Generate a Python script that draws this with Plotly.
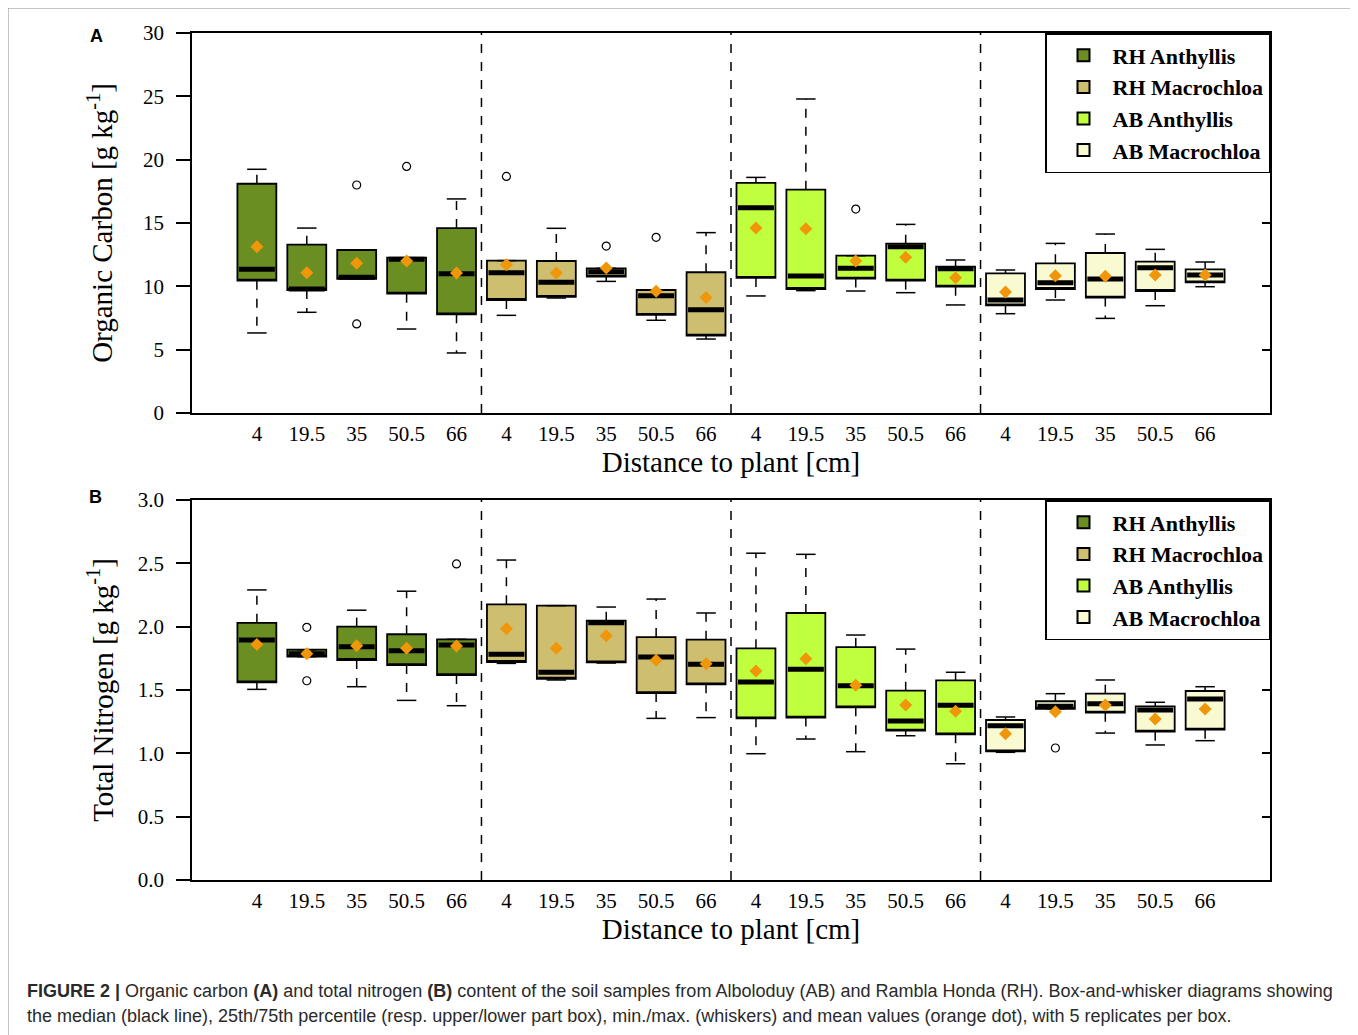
import plotly.graph_objects as go

# ---------------- data ----------------
groups = ["RH Anthyllis", "RH Macrochloa", "AB Anthyllis", "AB Macrochloa"]
group_colors = ["#6B8E23", "#CDBE70", "#C0FF3E", "#FAFAD2"]
distances = ["4", "19.5", "35", "50.5", "66"]

# Panel A: Organic carbon [g kg-1]
oc_min = [6.32, 7.95, 10.60, 6.63, 4.74, 7.71, 9.08, 10.39, 7.32, 5.84,
          9.24, 9.66, 9.63, 9.50, 8.53, 7.84, 8.92, 7.47, 8.47, 9.97]
oc_q1 = [10.45, 9.71, 10.60, 9.42, 7.79, 8.92, 9.16, 10.76, 7.74, 6.11,
         10.66, 9.79, 10.61, 10.45, 9.97, 8.50, 9.79, 9.11, 9.63, 10.32]
oc_med = [11.34, 9.79, 10.71, 12.13, 11.00, 11.08, 10.32, 11.16, 9.26, 8.16,
          16.21, 10.82, 11.42, 13.13, 11.39, 8.92, 10.29, 10.58, 11.47, 10.89]
oc_q3 = [18.10, 13.29, 12.87, 12.26, 14.60, 12.03, 12.00, 11.42, 9.71, 11.11,
         18.16, 17.63, 12.42, 13.37, 11.55, 11.03, 11.82, 12.63, 11.95, 11.34]
oc_max = [19.24, 14.60, 12.87, 12.26, 16.90, 12.03, 14.58, 11.42, 9.71, 14.24,
          18.60, 24.79, 12.42, 14.89, 12.08, 11.29, 13.39, 14.13, 12.92, 11.92]
oc_mean = [13.13, 11.08, 11.82, 12.00, 11.05, 11.71, 11.05, 11.45, 9.61, 9.11,
           14.60, 14.55, 12.00, 12.29, 10.68, 9.55, 10.84, 10.79, 10.89, 10.89]
oc_out_box = [2, 2, 3, 5, 7, 8, 12]
oc_out_val = [18.0, 7.03, 19.47, 18.68, 13.18, 13.87, 16.1]

# Panel B: Total nitrogen [g kg-1]
tn_min = [1.505, 1.763, 1.526, 1.418, 1.376, 1.710, 1.579, 1.713, 1.276, 1.282,
          0.997, 1.113, 1.013, 1.139, 0.918, 1.008, 1.352, 1.160, 1.066, 1.100]
tn_q1 = [1.560, 1.763, 1.737, 1.697, 1.618, 1.721, 1.589, 1.718, 1.476, 1.545,
         1.276, 1.282, 1.363, 1.179, 1.150, 1.016, 1.352, 1.321, 1.171, 1.187]
tn_med = [1.895, 1.787, 1.842, 1.810, 1.855, 1.782, 1.640, 2.030, 1.760, 1.703,
          1.563, 1.663, 1.534, 1.255, 1.379, 1.218, 1.371, 1.392, 1.342, 1.429]
tn_q3 = [2.030, 1.818, 2.000, 1.940, 1.900, 2.176, 2.166, 2.047, 1.918, 1.897,
         1.829, 2.108, 1.839, 1.495, 1.576, 1.263, 1.411, 1.471, 1.371, 1.492]
tn_max = [2.290, 1.818, 2.130, 2.280, 1.900, 2.526, 2.166, 2.155, 2.218, 2.108,
          2.580, 2.571, 1.934, 1.823, 1.640, 1.287, 1.471, 1.579, 1.403, 1.526]
tn_mean = [1.860, 1.787, 1.850, 1.830, 1.847, 1.984, 1.829, 1.929, 1.734, 1.708,
           1.650, 1.747, 1.537, 1.382, 1.332, 1.155, 1.329, 1.382, 1.271, 1.350]
tn_out_box = [1, 1, 4, 16]
tn_out_val = [1.995, 1.573, 2.495, 1.042]

# ---------------- styling ----------------
SERIF = "Liberation Serif"
SANS = "Liberation Sans"
BOX_W = 0.78
CAP_HALF = 0.195
MEAN_COLOR = "#F0960A"

n_g, n_d = len(groups), len(distances)
positions = list(range(n_g * n_d))

fig = go.Figure()


def add_panel(xa, ya, legend_name, mins, q1s, meds, q3s, maxs, means, out_box, out_val):
    # whiskers (dashed) and caps
    wx, wy, cx, cy = [], [], [], []
    for i in positions:
        wx += [i, i, None, i, i, None]
        wy += [q3s[i], maxs[i], None, q1s[i], mins[i], None]
        cx += [i - CAP_HALF, i + CAP_HALF, None, i - CAP_HALF, i + CAP_HALF, None]
        cy += [maxs[i], maxs[i], None, mins[i], mins[i], None]
    fig.add_trace(go.Scatter(x=wx, y=wy, mode="lines", xaxis=xa, yaxis=ya,
                             line=dict(color="black", width=1.5, dash="dash"),
                             showlegend=False, hoverinfo="skip"))
    fig.add_trace(go.Scatter(x=cx, y=cy, mode="lines", xaxis=xa, yaxis=ya,
                             line=dict(color="black", width=1.5),
                             showlegend=False, hoverinfo="skip"))
    # boxes
    for gi, g in enumerate(groups):
        idx = positions[gi * n_d:(gi + 1) * n_d]
        fig.add_trace(go.Box(
            x=idx,
            q1=[q1s[i] for i in idx], median=[q1s[i] for i in idx],
            q3=[q3s[i] for i in idx],
            lowerfence=[q1s[i] for i in idx], upperfence=[q3s[i] for i in idx],
            width=BOX_W, whiskerwidth=0, fillcolor=group_colors[gi],
            line=dict(color="black", width=1.8), name=g, legend=legend_name,
            xaxis=xa, yaxis=ya, boxpoints=False, hoverinfo="skip"))
    # median (thick black line)
    fig.add_trace(go.Box(
        x=positions, q1=meds, median=meds, q3=meds, lowerfence=meds, upperfence=meds,
        width=BOX_W - 0.06, whiskerwidth=0, fillcolor="rgba(0,0,0,0)",
        line=dict(color="black", width=5), showlegend=False,
        xaxis=xa, yaxis=ya, boxpoints=False, hoverinfo="skip"))
    # means
    fig.add_trace(go.Scatter(x=positions, y=means, mode="markers", xaxis=xa, yaxis=ya,
                             marker=dict(symbol="diamond", size=10, color=MEAN_COLOR),
                             showlegend=False))
    # outliers
    fig.add_trace(go.Scatter(x=out_box, y=out_val, mode="markers", xaxis=xa, yaxis=ya,
                             marker=dict(symbol="circle-open", size=8, color="black",
                                         line=dict(width=1.2)),
                             showlegend=False))


add_panel("x", "y", "legend", oc_min, oc_q1, oc_med, oc_q3, oc_max, oc_mean, oc_out_box, oc_out_val)
add_panel("x2", "y2", "legend2", tn_min, tn_q1, tn_med, tn_q3, tn_max, tn_mean, tn_out_box, tn_out_val)

# dummy traces for the right-hand inside tick axes
fig.add_trace(go.Scatter(x=[None], y=[None], xaxis="x", yaxis="y3", showlegend=False))
fig.add_trace(go.Scatter(x=[None], y=[None], xaxis="x2", yaxis="y4", showlegend=False))

# group separators
for k in range(1, n_g):
    for xr, yr in (("x", "y domain"), ("x2", "y2 domain")):
        fig.add_shape(type="line", xref=xr, yref=yr, x0=k * n_d - 0.5, x1=k * n_d - 0.5,
                      y0=0, y1=1, line=dict(color="black", width=1.5, dash="dash"))

# page has an 8px body margin; positions below are in screenshot pixels
OFF = 8
W, H = 1358, 1035
ML, MT = 192 - OFF, 33 - OFF
PW = 1270 - 192
PB = 880 - OFF  # plot bottom in figure coords
PH = PB - MT
MR = W - ML - PW
MB = H - PB


def px(x):
    return (x - OFF - ML) / PW


def py(y):
    return (PB - (y - OFF)) / PH


domA = [py(413), 1.0]
domB = [0.0, py(500)]

xcommon = dict(range=[-1.3, 20.3], tickvals=positions, ticktext=distances * n_g,
               showline=True, mirror=True, linecolor="black", linewidth=1.5,
               showgrid=False, zeroline=False, ticks="outside", ticklen=1,
               tickcolor="rgba(0,0,0,0)", tickfont=dict(family=SERIF, size=21, color="black"),
               title=dict(text="Distance to plant [cm]", font=dict(family=SERIF, size=29, color="black"),
                          standoff=2))
ycommon = dict(showline=True, mirror=True, linecolor="black", linewidth=1.5,
               showgrid=False, zeroline=False, ticks="outside", ticklen=14, tickwidth=1.5,
               tickcolor="black", ticklabelstandoff=8,
               tickfont=dict(family=SERIF, size=21, color="black"))
yright = dict(side="right", showticklabels=False, showgrid=False, zeroline=False,
              showline=False, ticks="inside", ticklen=8, tickwidth=1.5, tickcolor="black")

legcommon = dict(x=1, xanchor="right", yanchor="top", bgcolor="white",
                 bordercolor="black", borderwidth=1.5, indentation=8, itemwidth=48,
                 font=dict(family=SERIF, size=22, color="black", weight="bold"),
                 itemsizing="constant", tracegroupgap=0)

fig.update_layout(
    width=W, height=H, margin=dict(l=ML, r=MR, t=MT, b=MB),
    paper_bgcolor="white", plot_bgcolor="white", boxmode="overlay",
    xaxis=dict(domain=[0, 1], anchor="y", **xcommon),
    xaxis2=dict(domain=[0, 1], anchor="y2", **xcommon),
    yaxis=dict(domain=domA, anchor="x", range=[0, 30], tick0=0, dtick=5,
               title=dict(text="Organic Carbon [g kg<sup>-1</sup>]",
                          font=dict(family=SERIF, size=29, color="black"), standoff=22),
               **ycommon),
    yaxis2=dict(domain=domB, anchor="x2", range=[0, 3], tick0=0, dtick=0.5, tickformat=".1f",
                title=dict(text="Total Nitrogen [g kg<sup>-1</sup>]",
                           font=dict(family=SERIF, size=29, color="black"), standoff=16),
                **ycommon),
    yaxis3=dict(overlaying="y", anchor="x", range=[0, 30], tick0=0, dtick=5, **yright),
    yaxis4=dict(overlaying="y2", anchor="x2", range=[0, 3], tick0=0, dtick=0.5, **yright),
    legend=dict(y=1.0, **legcommon),
    legend2=dict(y=domB[1], **legcommon),
)

# panel letters
fig.add_annotation(text="<b>A</b>", xref="paper", yref="paper", x=px(96), y=py(36),
                   xanchor="center", yanchor="middle",
                   showarrow=False, font=dict(family=SANS, size=18, color="black"))
fig.add_annotation(text="<b>B</b>", xref="paper", yref="paper", x=px(95), y=py(497),
                   xanchor="center", yanchor="middle",
                   showarrow=False, font=dict(family=SANS, size=18, color="black"))

# caption
cap1 = ("<b>FIGURE 2 |</b> Organic carbon <b>(A)</b> and total nitrogen <b>(B)</b> content of the soil "
        "samples from Alboloduy (AB) and Rambla Honda (RH). Box-and-whisker diagrams showing")
cap2 = ("the median (black line), 25th/75th percentile (resp. upper/lower part box), min./max. "
        "(whiskers) and mean values (orange dot), with 5 replicates per box.")
for txt, yy in ((cap1, 991), (cap2, 1016)):
    fig.add_annotation(text=txt, xref="paper", yref="paper", x=px(25), y=py(yy),
                       xanchor="left", yanchor="middle", showarrow=False, align="left",
                       font=dict(family=SANS, size=18, color="#2a2a2a"))

# outer frame
fig.add_shape(type="rect", xref="paper", yref="paper", x0=px(8), x1=px(1356),
              y0=py(1050), y1=py(8), line=dict(color="#8a8a8a", width=1), layer="below")

fig.write_html("out.html")
